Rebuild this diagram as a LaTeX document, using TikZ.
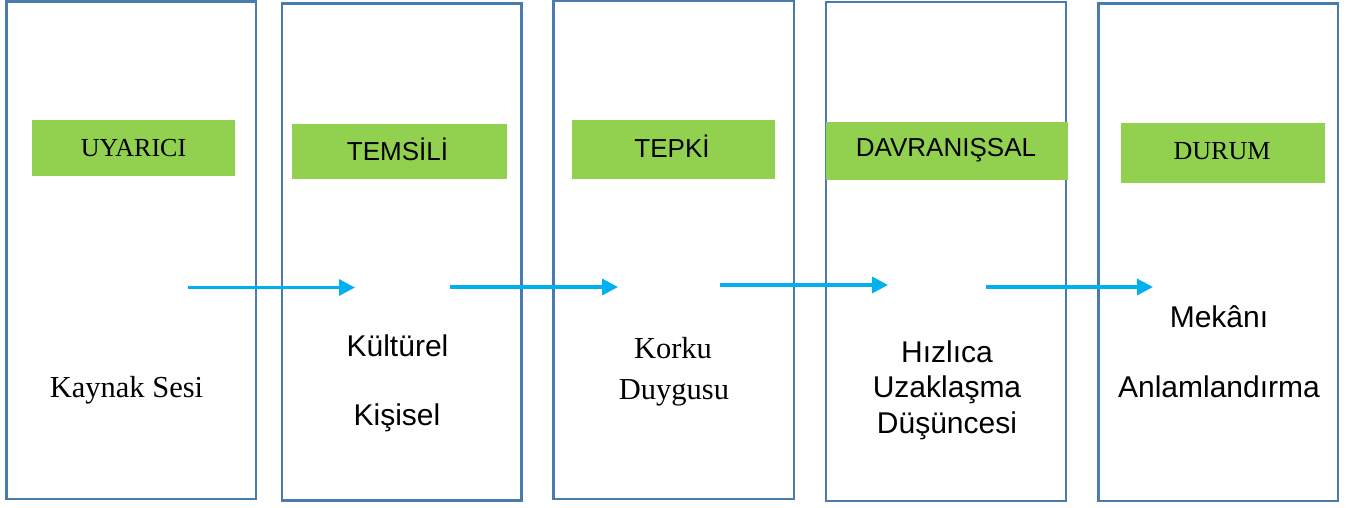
\documentclass[tikz,border=0pt]{standalone}
\usepackage{fontspec}
\setmainfont{Liberation Serif}
\newfontfamily\arialf{Liberation Sans}
\usetikzlibrary{arrows.meta}
\definecolor{boxblue}{HTML}{4A7BAF}
\definecolor{greenfill}{HTML}{92D050}
\definecolor{arrowblue}{HTML}{00B0F0}
\begin{document}
\begin{tikzpicture}[x=1pt,y=-1pt,
  colbox/.style={draw=boxblue, line width=2.6pt, inner sep=0pt, outer sep=0pt, fill=white},
  headbox/.style={fill=greenfill, inner sep=0pt, outer sep=0pt},
  flow/.style={draw=arrowblue, line width=3.3pt, -{Triangle[length=16pt,width=16pt]}},
  headserif/.style={anchor=base, inner sep=0pt, font=\fontsize{26}{31}\selectfont},
  headsans/.style={anchor=base, inner sep=0pt, font=\arialf\fontsize{26}{31}\selectfont},
  bodyserif/.style={anchor=base, inner sep=0pt, font=\fontsize{30.5}{36}\selectfont},
  bodysans/.style={anchor=base, inner sep=0pt, font=\arialf\fontsize{30}{36}\selectfont}
]
\useasboundingbox (0,0) rectangle (1357,507);

% column boxes
\node[colbox, minimum width=249.5pt, minimum height=497.5pt] (b1) at (131.25,250.25) {};
\node[colbox, minimum width=239.7pt, minimum height=497pt] (b2) at (401.85,252) {};
\node[colbox, minimum width=240.7pt, minimum height=498pt] (b3) at (673.65,250) {};
\node[colbox, minimum width=240pt, minimum height=499pt] (b4) at (946,251.5) {};
\node[colbox, minimum width=239.7pt, minimum height=497.5pt] (b5) at (1218.15,252.25) {};

% green header boxes
\node[headbox, minimum width=203pt, minimum height=56pt] (g1) at (133.5,148) {};
\node[headbox, minimum width=215pt, minimum height=55pt] (g2) at (399.5,151.5) {};
\node[headbox, minimum width=203pt, minimum height=59pt] (g3) at (673.5,149.5) {};
\node[headbox, minimum width=242pt, minimum height=58pt] (g4) at (947,151) {};
\node[headbox, minimum width=204pt, minimum height=60pt] (g5) at (1223,153) {};

% header labels
\node[headserif] (h1) at (133.5,156) {UYARICI};
\node[headsans] (h2) at (397.5,160) {TEMSİLİ};
\node[headsans] (h3) at (672,157) {TEPKİ};
\node[headsans] (h4) at (946,156) {DAVRANIŞSAL};
\node[headserif] (h5) at (1222,159) {DURUM};

% arrows
\coordinate (a1s) at (188,287.5);
\coordinate (a1e) at (355,287.5);
\coordinate (a2s) at (450,287);
\coordinate (a2e) at (618,287);
\coordinate (a3s) at (720,285);
\coordinate (a3e) at (888,285);
\coordinate (a4s) at (986,287);
\coordinate (a4e) at (1153,287);
\draw[flow] (a1s) -- (a1e);
\draw[flow] (a2s) -- (a2e);
\draw[flow] (a3s) -- (a3e);
\draw[flow] (a4s) -- (a4e);

% body texts
\node[bodyserif] (t1) at (126.5,397) {Kaynak Sesi};
\node[bodysans] (t2a) at (397.5,356) {Kültürel};
\node[bodysans] (t2b) at (397,425) {Kişisel};
\node[bodyserif] (t3a) at (673,358) {Korku};
\node[bodyserif] (t3b) at (674,399) {Duygusu};
\node[bodysans] (t4a) at (947,362) {Hızlıca};
\node[bodysans] (t4b) at (947,397) {Uzaklaşma};
\node[bodysans] (t4c) at (947,433) {Düşüncesi};
\node[bodysans] (t5a) at (1219,327) {Mekânı};
\node[bodysans] (t5b) at (1219,397) {Anlamlandırma};
\end{tikzpicture}
\end{document}
